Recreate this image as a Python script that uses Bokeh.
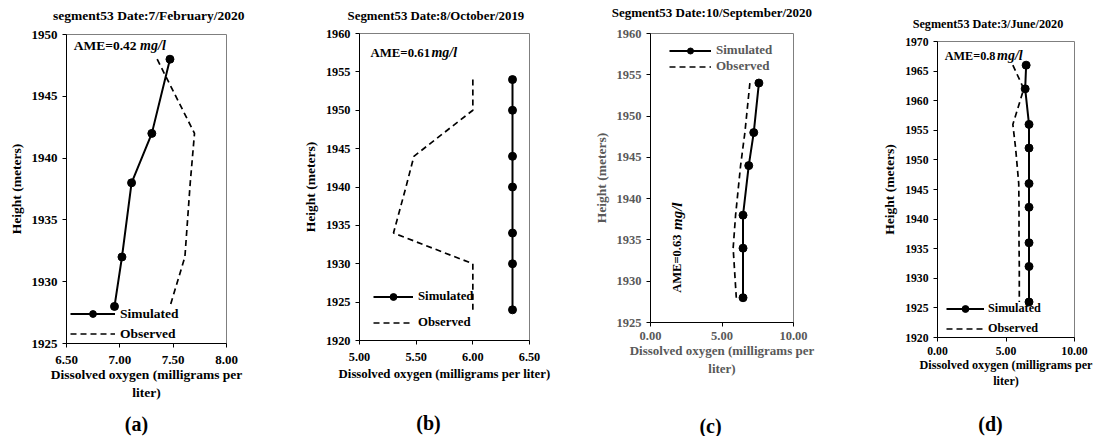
import math
from bokeh.plotting import figure
from bokeh.models import Range1d, FixedTicker, Label
from bokeh.embed import file_html
from bokeh.resources import INLINE

# ---------------- data ----------------
# (a) segment53 7/February/2020
a_sim_height = [1948, 1942, 1938, 1932, 1928]
a_sim_do = [7.47, 7.30, 7.11, 7.02, 6.95]
a_obs_height = [1948, 1942, 1938, 1932, 1928]
a_obs_do = [7.35, 7.70, 7.66, 7.61, 7.47]
a_xticks = [6.5, 7.0, 7.5, 8.0]
a_xlabels = ["6.50", "7.00", "7.50", "8.00"]
a_yticks = [1925, 1930, 1935, 1940, 1945, 1950]

# (b) Segment53 8/October/2019
b_sim_height = [1954, 1950, 1944, 1940, 1934, 1930, 1924]
b_sim_do = [6.35, 6.35, 6.35, 6.35, 6.35, 6.35, 6.35]
b_obs_height = [1954, 1950, 1944, 1940, 1934, 1930, 1924]
b_obs_do = [6.0, 6.0, 5.48, 5.41, 5.30, 6.0, 6.0]
b_xticks = [5.0, 5.5, 6.0, 6.5]
b_xlabels = ["5.00", "5.50", "6.00", "6.50"]
b_yticks = [1920, 1925, 1930, 1935, 1940, 1945, 1950, 1955, 1960]

# (c) Segment53 10/September/2020
c_sim_height = [1954, 1948, 1944, 1938, 1934, 1928]
c_sim_do = [7.58, 7.22, 6.87, 6.47, 6.47, 6.47]
c_obs_height = [1954, 1948, 1944, 1938, 1934, 1928]
c_obs_do = [6.95, 6.6, 6.3, 5.95, 5.78, 6.0]
c_xticks = [0, 5, 10]
c_xlabels = ["0.00", "5.00", "10.00"]
c_yticks = [1925, 1930, 1935, 1940, 1945, 1950, 1955, 1960]

# (d) Segment53 3/June/2020
d_sim_height = [1966, 1962, 1956, 1952, 1946, 1942, 1936, 1932, 1926]
d_sim_do = [6.47, 6.40, 6.68, 6.68, 6.68, 6.68, 6.68, 6.68, 6.68]
d_obs_height = [1966, 1962, 1956, 1952, 1946, 1942, 1936, 1932, 1926]
d_obs_do = [5.5, 6.3, 5.5, 5.7, 5.93, 5.95, 5.95, 5.97, 5.97]
d_xticks = [0, 5, 10]
d_xlabels = ["0.00", "5.00", "10.00"]
d_yticks = [1920, 1925, 1930, 1935, 1940, 1945, 1950, 1955, 1960, 1965, 1970]

FONT = "Liberation Serif"
GRAY = "#595959"
CAP_TOP = 410  # top of the caption strip (page pixels)
CAP_H = 436 - CAP_TOP


def text_label(p, x, y, text, size, color="black", style="bold", align="left",
               angle=0.0):
    p.add_layout(Label(x=x, y=y, text=text,
                       text_font=FONT, text_font_size=size, text_font_style=style,
                       text_color=color, text_align=align, text_baseline="middle",
                       angle=angle))


def strip(W, H, x, y, text, size):
    # a text-only band (panel title or caption); x, y in pixels from its bottom-left
    s = figure(width=W, height=H, x_range=Range1d(0, W), y_range=Range1d(0, H),
               output_backend="svg", toolbar_location=None, min_border=0,
               x_axis_location=None, y_axis_location=None)
    s.grid.visible = False
    s.outline_line_color = None
    s.background_fill_color = "white"
    s.border_fill_color = "white"
    text_label(s, x, y, text, size, align="center")
    return s


def make_panel(W, H, L, R, T, B, xr, yr, xticks, xlabels, yticks,
               sim_x, sim_y, obs_x, obs_y, xlabel, fs, tick_color="black",
               x_standoff=5, xlabel_standoff=0):
    p = figure(width=W, height=H, x_range=Range1d(*xr), y_range=Range1d(*yr),
               output_backend="svg", toolbar_location=None,
               min_border_left=L, min_border_right=R, min_border_top=T,
               min_border_bottom=B)
    p.grid.visible = False
    p.outline_line_color = "#7f7f7f"
    p.outline_line_width = 1
    p.background_fill_color = "white"
    p.border_fill_color = "white"

    p.xaxis.ticker = FixedTicker(ticks=xticks)
    p.xaxis.major_label_overrides = {t: l for t, l in zip(xticks, xlabels)}
    p.yaxis.ticker = FixedTicker(ticks=yticks)
    for ax in (p.xaxis[0], p.yaxis[0]):
        ax.axis_line_color = "black"
        ax.major_tick_line_color = "black"
        ax.major_tick_out = 4
        ax.major_tick_in = 0
        ax.minor_tick_line_color = None
        ax.major_label_text_font = FONT
        ax.major_label_text_font_style = "bold"
        ax.major_label_text_font_size = f"{fs - 0.5}px"
        ax.major_label_text_color = tick_color
        ax.axis_label_text_font = FONT
        ax.axis_label_text_font_style = "bold"
        ax.axis_label_text_color = tick_color
    p.xaxis.major_label_standoff = x_standoff
    p.yaxis.major_label_standoff = 5
    p.xaxis.axis_label = xlabel
    p.xaxis.axis_label_text_font_size = f"{fs}px"
    p.xaxis.axis_label_standoff = xlabel_standoff
    p.yaxis.axis_label = "Height (meters)"
    p.yaxis.axis_label_text_font_size = "13.5px"
    p.yaxis.axis_label_standoff = 5

    p.line(sim_x, sim_y, line_color="black", line_width=2, legend_label="Simulated")
    p.scatter(sim_x, sim_y, size=8, fill_color="black", line_color="black",
              legend_label="Simulated")
    p.line(obs_x, obs_y, line_color="black", line_width=1.7, line_dash="6 4",
           legend_label="Observed")
    lg = p.legend[0]
    lg.background_fill_alpha = 0
    lg.border_line_color = None
    lg.padding = 0
    lg.margin = 0
    lg.label_text_font = FONT
    lg.label_text_font_style = "bold"
    lg.label_text_font_size = f"{fs}px"
    lg.label_text_color = tick_color
    lg.label_height = 17
    lg.glyph_height = 17
    lg.spacing = 3
    lg.label_standoff = 5
    return p


# ---------------- (a)  page x 0..290 ----------------
ta = strip(290, 25, 150, 10, "segment53  Date:7/February/2020", "13.5px")
pa = make_panel(290, CAP_TOP - 25, 66, 64, 9, CAP_TOP - 25 - 9 - 309,
                (6.5, 8.0), (1925, 1950), a_xticks, a_xlabels, a_yticks,
                a_sim_do, a_sim_height, a_obs_do, a_obs_height,
                "Dissolved oxygen (milligrams per\nliter)", 13.5, x_standoff=8)
pa.legend.location = (4, 1)
pa.legend.glyph_width = 45
text_label(pa, 6.568, 1949.1, "AME=0.42", "13.5px")
text_label(pa, 7.19, 1949.1, "mg/l", "14px", style="bold italic")
ca = strip(290, CAP_H, 136, CAP_H - 13, "(a)", "20px")

# ---------------- (b)  page x 290..565 ----------------
tb = strip(275, 25, 147, 10, "Segment53  Date:8/October/2019", "12.8px")
pb = make_panel(275, CAP_TOP - 25, 69, 36, 8, CAP_TOP - 25 - 8 - 307,
                (5.0, 6.5), (1920, 1960), b_xticks, b_xlabels, b_yticks,
                b_sim_do, b_sim_height, b_obs_do, b_obs_height,
                "Dissolved oxygen (milligrams per liter)", 12.8,
                x_standoff=8, xlabel_standoff=3)
pb.legend.location = (14, 9)
pb.legend.glyph_width = 40
pb.legend.spacing = 9
text_label(pb, 5.097, 1957.5, "AME=0.61", "12.8px")
text_label(pb, 5.635, 1957.5, "mg/l", "14px", style="bold italic")
cb = strip(275, CAP_H, 138, CAP_H - 12, "(b)", "20px")

# ---------------- (c)  page x 565..840 ----------------
tc = strip(275, 25, 148, 13, "Segment53  Date:10/September/2020", "13px")
pc = make_panel(275, CAP_TOP - 25, 85, 47, 8, CAP_TOP - 25 - 8 - 289,
                (0, 10), (1925, 1960), c_xticks, c_xlabels, c_yticks,
                c_sim_do, c_sim_height, c_obs_do, c_obs_height,
                "Dissolved oxygen (milligrams per\nliter)", 13, tick_color=GRAY)
pc.legend.location = (19, 248)
pc.legend.glyph_width = 42
pc.legend.label_height = 15
pc.legend.glyph_height = 15
pc.legend.spacing = 0
text_label(pc, 1.86, 1928.6, "AME=0.63", "12.5px", angle=math.pi / 2)
text_label(pc, 1.86, 1936.2, "mg/l", "15px", style="bold italic", angle=math.pi / 2)
cc = strip(275, CAP_H, 145, CAP_H - 15, "(c)", "20px")

# ---------------- (d)  page x 840..1098 ----------------
td = strip(258, 32, 149, 9, "Segment53  Date:3/June/2020", "12.2px")
pd_ = make_panel(258, CAP_TOP - 32, 97, 24, 9, CAP_TOP - 32 - 9 - 296,
                 (0, 10), (1920, 1970), d_xticks, d_xlabels, d_yticks,
                 d_sim_do, d_sim_height, d_obs_do, d_obs_height,
                 "Dissolved oxygen (milligrams per\nliter)", 12.2)
pd_.legend.location = (9, 0)
pd_.legend.glyph_width = 38
pd_.legend.label_standoff = 4
text_label(pd_, 0.53, 1967.6, "AME=0.8", "12.2px")
text_label(pd_, 4.35, 1967.6, "mg/l", "14px", style="bold italic")
cd = strip(258, CAP_H, 150, CAP_H - 13, "(d)", "20px")

roots = [ta, pa, ca, tb, pb, cb, tc, pc, cc, td, pd_, cd]

TEMPLATE = """
{% block contents %}
{% from macros import embed %}
<div style="display:flex;flex-direction:row;align-items:flex-start;margin:0;padding:0;">
{% for i in range(4) %}
<div style="display:flex;flex-direction:column;flex:none;margin:0;padding:0;">
<div style="flex:none;">{{ embed(roots[3*i]) }}</div>
<div style="flex:none;">{{ embed(roots[3*i+1]) }}</div>
<div style="flex:none;">{{ embed(roots[3*i+2]) }}</div>
</div>
{% endfor %}
</div>
{% endblock %}
"""

open("out.html", "w").write(file_html(roots, INLINE, template=TEMPLATE))
